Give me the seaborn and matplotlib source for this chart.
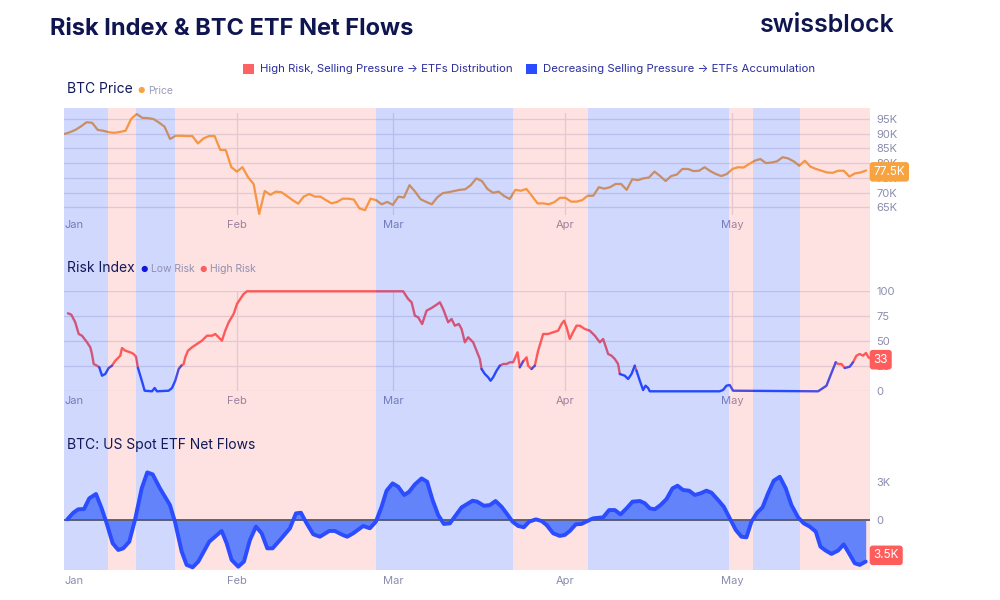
import numpy as np
import pandas as pd
import seaborn as sns
import matplotlib.pyplot as plt
from matplotlib.patches import Patch

sns.set_theme(style="white")
plt.rcParams["font.family"] = ["Inter", "DejaVu Sans"]

# ---------------------------------------------------------------------------
# data (x values are days since 1 Jan 2025)
# ---------------------------------------------------------------------------
month_labels = ["Jan", "Feb", "Mar", "Apr", "May"]
month_day = [0, 31, 59, 90, 120]

# BTC price, daily, thousands of USD (1 Jan .. 25 May)
price_k = [
    89.9, 90.5, 91.3, 92.5, 93.9, 93.7, 91.3, 91.0, 90.5, 90.3,
    90.6, 91.0, 95.0, 96.7, 95.4, 95.3, 95.0, 93.8, 92.4, 88.2,
    89.3, 89.3, 89.2, 89.2, 86.7, 88.4, 89.2, 89.2, 84.5, 84.4,
    78.6, 77.1, 78.6, 75.2, 72.9, 62.7, 70.5, 69.2, 70.3, 70.1,
    68.8, 67.4, 66.2, 68.6, 69.5, 68.6, 68.6, 67.4, 66.3, 66.8,
    67.9, 67.9, 67.6, 64.6, 64.0, 67.9, 67.4, 66.0, 66.8, 65.8,
    68.6, 68.3, 72.5, 70.3, 67.7, 66.8, 66.0, 68.4, 69.8, 70.1,
    70.5, 70.9, 71.1, 72.5, 74.8, 73.9, 71.2, 69.9, 70.3, 68.8,
    67.8, 70.9, 70.6, 71.2, 68.8, 66.3, 66.3, 66.0, 66.7, 68.2,
    68.2, 66.9, 66.9, 67.4, 68.9, 68.9, 71.8, 71.3, 71.8, 72.9,
    72.9, 70.9, 74.5, 74.2, 74.8, 75.1, 77.1, 75.6, 73.9, 75.6,
    76.1, 78.0, 78.0, 77.3, 77.4, 78.6, 77.3, 76.3, 75.6, 76.3,
    78.0, 78.6, 78.5, 79.7, 80.8, 81.4, 80.0, 80.2, 80.6, 82.0,
    81.6, 80.6, 79.1, 80.8, 78.8, 78.0, 77.4, 76.8, 76.7, 77.4,
    77.4, 75.4, 76.5, 76.8, 77.5,
]
price_day = np.arange(len(price_k))

# Risk index (0-100)
risk_day = [
    0.66, 1.26, 1.97, 2.59, 3.18, 4.08, 4.67, 4.97, 5.28, 5.87,
    6.28, 6.77, 7.36, 7.97, 8.56, 9.16, 10.05, 10.36, 10.95, 11.85,
    12.46, 12.87, 13.23, 13.95, 14.43, 15.75, 16.23, 16.64, 18.74, 19.34,
    19.93, 20.54, 21.01, 21.44, 21.72, 22.21, 22.93, 23.82, 24.72, 25.62,
    26.52, 27.11, 27.72, 28.31, 28.9, 29.52, 30.41, 31.01, 31.6, 32.21,
    32.8,
    60.86, 61.17, 61.76, 62.37, 62.96, 63.55, 64.27, 65.06, 65.96, 66.86,
    67.45, 68.04, 68.94, 69.55, 70.14, 70.86, 71.35, 71.94, 72.53, 73.43,
    74.04, 74.63, 74.94, 75.53, 76.12, 76.55, 77.02, 77.63, 78.22, 78.82,
    79.43, 80.02, 80.61, 81.4, 81.81, 82.41, 83.02, 83.3, 83.91, 84.5,
    85.1, 86.0, 86.89, 87.79, 88.69, 89.3, 89.77, 90.2, 90.79, 91.2,
    91.99, 92.59, 93.48, 94.38, 95.28, 96.18, 96.77, 97.38, 97.67, 98.28,
    98.87, 99.46, 99.77, 100.66, 101.26, 101.87, 102.46, 102.76, 103.36, 103.95,
    104.38, 104.85, 105.15,
    117.7, 118.31, 118.92, 119.51, 120.11, 135.37, 136.27, 136.88, 137.47, 138.06,
    138.55, 138.96, 139.57, 140.16, 141.06, 141.65, 142.26, 142.85, 143.45, 143.97,
    144.43, 144.7,
]
risk_val = [
    78, 76.6, 69, 57.3, 55.6, 49, 44, 37.3, 27.3, 25.6,
    24, 15.6, 17.3, 23.3, 25.6, 30.6, 35.6, 43.3, 40.6, 39,
    37.3, 34.6, 23.3, 10, 0.6, 0, 3.3, 0, 0.6, 3.3,
    10.6, 22.3, 25.6, 27.3, 34, 40.6, 44, 47.3, 50.6, 55.6,
    55.6, 57.3, 54, 50.6, 60.6, 69, 77.3, 87.3, 92.3, 97.3,
    100,
    100, 97.3, 92.3, 89, 75.6, 74, 67.3, 80.6, 83.3, 86.6,
    89, 82.3, 69, 72.3, 65.6, 67.3, 62.3, 49, 54, 49,
    40.6, 32.3, 22.3, 17.3, 14, 10.6, 14, 20.6, 25.6, 27.3,
    27.3, 29, 29, 39, 24, 30, 34, 25.6, 22.3, 25.6,
    40.6, 57.3, 57.3, 59, 60.6, 67.3, 70.6, 64, 52.3, 57.3,
    65.6, 65.6, 62.3, 60.6, 55.6, 49, 52.3, 42.3, 37.3, 35.6,
    32.3, 27.3, 17.3, 15.6, 12.3, 17.3, 25.6, 20.6, 10.6, 1.3,
    5.6, 3.3, 0,
    0, 1.3, 5.6, 6.3, 0.6, 0, 3.3, 5.6, 14, 22.3,
    29, 27.3, 27.3, 23.3, 24.6, 29, 35.6, 37.3, 35.6, 38.3,
    34, 33,
]
risk_threshold = 25

# US spot ETF net flows, thousands of BTC
flow_day = [
    0.54, 1.62, 2.51, 3.54, 4.49, 5.69, 6.71, 7.61, 8.69, 9.69,
    10.59, 11.67, 12.69, 13.9, 14.9, 15.87, 17.18, 18.98, 19.87, 21.08,
    21.97, 23.05, 24.06, 26.03, 28.26, 29.16, 30.05, 31.24, 32.26, 33.34,
    34.42, 35.44, 36.45, 37.41, 38.73, 40.52, 41.6, 42.5, 43.52, 44.7,
    45.91, 47.58, 48.6, 49.98, 50.81, 51.89, 53.68, 54.88, 55.96, 56.98,
    57.88, 58.96, 59.96, 61.04, 61.94, 62.96, 64.17, 65.17, 66.14, 67.15,
    68.17, 69.25, 71.35, 73.32, 74.15, 75.35, 76.43, 77.45, 78.53, 79.43,
    80.5, 81.51, 82.53, 83.48, 84.69, 85.71, 86.61, 87.79, 88.99, 89.89,
    90.79, 91.87, 92.89, 94.08, 94.97, 96.77, 97.85, 98.87, 99.89, 100.97,
    102.05, 103.36, 104.26, 105.15, 106.05, 107.07, 108.15, 109.23, 110.13, 111.13,
    112.21, 113.23, 114.25, 115.33, 116.23, 117.41, 118.44, 119.51, 120.59, 121.61,
    122.51, 123.41, 124.42, 125.39, 126.39, 127.41, 128.49, 129.57, 130.59, 131.78,
    132.8, 133.88, 134.96, 135.8, 136.75, 137.78, 138.96, 139.98, 140.93, 141.96,
    142.85, 143.93,
]
flow_k = [
    0.05, 0.57, 0.84, 0.86, 1.7, 2.04, 0.91, -0.26, -1.83, -2.35,
    -2.22, -1.7, 0, 2.48, 3.73, 3.58, 2.48, 1.17, -0.13, -2.48,
    -3.52, -3.71, -3.26, -1.7, -0.86, -1.83, -3.13, -3.66, -3.26, -1.57,
    -0.52, -1.04, -2.22, -2.22, -1.57, -0.65, 0.52, 0.57, -0.26, -1.12,
    -1.31, -0.86, -0.86, -1.17, -1.31, -1.04, -0.47, -0.65, -0.13, 1.04,
    2.3, 2.87, 2.61, 1.96, 2.22, 2.79, 3.26, 3.0, 1.57, 0.39,
    -0.31, -0.26, 0.99, 1.51, 1.44, 1.12, 1.17, 1.49, 1.04, 0.52,
    -0.13, -0.47, -0.57, -0.13, 0.05, -0.08, -0.39, -1.04, -1.25, -1.17,
    -0.86, -0.34, -0.31, -0.05, 0.13, 0.21, 0.78, 0.78, 0.44, 0.91,
    1.44, 1.49, 1.31, 0.91, 0.84, 1.17, 1.64, 2.48, 2.69, 2.35,
    2.3, 1.96, 2.09, 2.3, 2.14, 1.57, 1.04, 0.13, -0.78, -1.31,
    -1.36, -0.13, 0.57, 0.99, 2.09, 3.08, 3.39, 2.48, 1.17, 0.21,
    -0.26, -0.52, -0.91, -2.09, -2.4, -2.66, -2.4, -1.91, -2.61, -3.39,
    -3.52, -3.26,
]

# regime shading
band_edges = [0, 7.8, 12.9, 19.9, 56.0, 80.5, 94.0, 119.3, 123.6, 132.1, 144.7]
band_kind = ["low", "high", "low", "high", "low", "high", "low", "high", "low", "high"]

# ---------------------------------------------------------------------------
# style
# ---------------------------------------------------------------------------
NAVY = "#11185a"
TICK = "#8a8cad"
GRID = "#e0e1ea"
ORANGE = "#f6a340"
RED = "#ff5c5c"
BLUE = "#2b4cff"
FILL = "#6383fa"
LEGEND_TXT = "#2b2e9e"
BAND = {"low": ("#143cfa", 0.20), "high": ("#fa5050", 0.17)}
XMAX = 144.7

fig = plt.figure(figsize=(10, 6), dpi=100)


def px_axes(left, top, right, bottom, z):
    ax = fig.add_axes([left / 1000, 1 - bottom / 600,
                       (right - left) / 1000, (bottom - top) / 600])
    ax.set_zorder(z)
    ax.set_facecolor("none")
    for s in ax.spines.values():
        s.set_visible(False)
    return ax


XL, XR = 64.3, 870
ax_p = px_axes(XL, 113, XR, 215, 1)
ax_r = px_axes(XL, 291.3, XR, 391.3, 1)
ax_bg = px_axes(XL, 108, XR, 570, 2)
ax_f = px_axes(XL, 470, XR, 570, 3)

# --- price panel ---
price = pd.DataFrame({"day": price_day, "price": price_k})
sns.lineplot(data=price, x="day", y="price", ax=ax_p, color=ORANGE, lw=1.6)
ax_p.set_ylim(62.35, 97.04)
ax_p.set_yticks([65, 70, 75, 80, 85, 90, 95])
ax_p.set_yticklabels([f"{v}K" for v in [65, 70, 75, 80, 85, 90, 95]])
ax_p.yaxis.grid(True, color=GRID, lw=0.9)
for d in month_day[1:]:
    ax_p.axvline(d, color=GRID, lw=0.9, zorder=0)

# --- risk panel: colour the line by level ---
risk = pd.DataFrame({"day": risk_day, "risk": risk_val})
risk["level"] = np.where(risk["risk"] >= risk_threshold, "High Risk", "Low Risk")
risk["run"] = (risk["level"] != risk["level"].shift()).cumsum()
pieces = []
for r, g in risk.groupby("run"):
    nxt = risk[risk["run"] == r + 1].head(1).assign(run=r, level=g["level"].iloc[0])
    pieces.append(pd.concat([g, nxt]))
risk_seg = pd.concat(pieces, ignore_index=True)
sns.lineplot(data=risk_seg, x="day", y="risk", hue="level", units="run",
             estimator=None, sort=False, ax=ax_r, lw=1.7, legend=False,
             palette={"High Risk": RED, "Low Risk": BLUE})
for ln in ax_r.lines:
    ln.set_clip_on(False)
ax_r.set_ylim(0, 100)
ax_r.set_yticks([0, 25, 50, 75, 100])
ax_r.yaxis.grid(True, color=GRID, lw=0.9)
for d in month_day[1:]:
    ax_r.axvline(d, color=GRID, lw=0.9, zorder=0)

# --- flows panel ---
flows = pd.DataFrame({"day": flow_day, "flow": flow_k})
ax_f.fill_between(flows["day"], flows["flow"], 0, color=FILL, lw=0)
ax_f.axhline(0, color="#55586a", lw=1.3)
sns.lineplot(data=flows, x="day", y="flow", ax=ax_f, color=BLUE, lw=2.8)
ax_f.set_ylim(-3.92, 3.92)
ax_f.set_yticks([0, 3])
ax_f.set_yticklabels(["0", "3K"])

# --- regime bands, laid over the price and risk panels ---
for start, end, kind in zip(band_edges[:-1], band_edges[1:], band_kind):
    c, a = BAND[kind]
    ax_bg.axvspan(start, end, color=c, alpha=a, lw=0)
ax_bg.set_xlim(0, XMAX)
ax_bg.set_ylim(0, 1)
ax_bg.set_xticks([])
ax_bg.set_yticks([])

for ax, pad in [(ax_p, 3.5), (ax_r, 3.5), (ax_f, 4.5)]:
    ax.set_xlim(0, XMAX)
    ax.set_xlabel("")
    ax.set_ylabel("")
    ax.set_xticks(month_day)
    ax.set_xticklabels(month_labels)
    ax.get_xticklabels()[0].set_ha("left")
    ax.yaxis.tick_right()
    ax.tick_params(axis="x", length=0, pad=pad, labelsize=8, labelcolor=TICK)
    ax.tick_params(axis="y", length=0, pad=4.5, labelsize=8, labelcolor=TICK)
    for lbl in ax.get_yticklabels():
        lbl.set_ha("left")

# --- last-value badges ---
badges = [(ax_p, price_k[-1], "77.5K", ORANGE, -1),
          (ax_r, risk_val[-1], "33", RED, -1),
          (ax_f, flow_k[-1], "3.5K", RED, 4.5)]
for ax, val, txt, col, dy in badges:
    ax.annotate(txt, xy=(1.0, val), xycoords=ax.get_yaxis_transform(),
                xytext=(2.5, dy), textcoords="offset points", ha="left", va="center",
                color="white", fontsize=8.5, annotation_clip=False, zorder=10,
                bbox=dict(boxstyle="round,pad=0.32,rounding_size=0.25", fc=col, ec="none"))

# --- header ---
fig.text(0.05, 1 - 29 / 600, "Risk Index & BTC ETF Net Flows", fontsize=17,
         fontweight="bold", color="#0e1550", va="center", zorder=5)
fig.text(0.895, 1 - 25 / 600, "swissblock", fontsize=18, fontweight="semibold",
         color="#0e1550", va="center", ha="right", zorder=5)
fig.legend(handles=[Patch(fc="#ff6262", ec="none"), Patch(fc="#2a4cff", ec="none")],
           labels=["High Risk, Selling Pressure \u2192 ETFs Distribution",
                   "Decreasing Selling Pressure \u2192 ETFs Accumulation"],
           loc="center", bbox_to_anchor=(0.529, 1 - 69 / 600), ncol=2, frameon=False,
           fontsize=8.2, labelcolor=LEGEND_TXT, handlelength=1.0, handleheight=1.0,
           handletextpad=0.5, columnspacing=1.2)


def ftext(x, y, s, **kw):
    kw.setdefault("zorder", 5)
    fig.text(x / 1000, 1 - y / 600, s, va="center", **kw)


ftext(67, 89, "BTC Price", fontsize=10, color=NAVY)
ftext(137, 90.5, "\u25cf", fontsize=6, color=ORANGE)
ftext(148, 91, "Price", fontsize=7.5, color="#9a9cb8")

ftext(67, 268, "Risk Index", fontsize=10, color=NAVY)
ftext(140, 269, "\u25cf", fontsize=6, color="#1515e0")
ftext(151, 269.5, "Low Risk", fontsize=7.5, color="#8f90b3")
ftext(199, 269, "\u25cf", fontsize=6, color=RED)
ftext(210, 269.5, "High Risk", fontsize=7.5, color="#8f90b3")

ftext(67, 445, "BTC: US Spot ETF Net Flows", fontsize=10, color=NAVY)

fig.savefig("out.png", dpi=100, facecolor="white")
